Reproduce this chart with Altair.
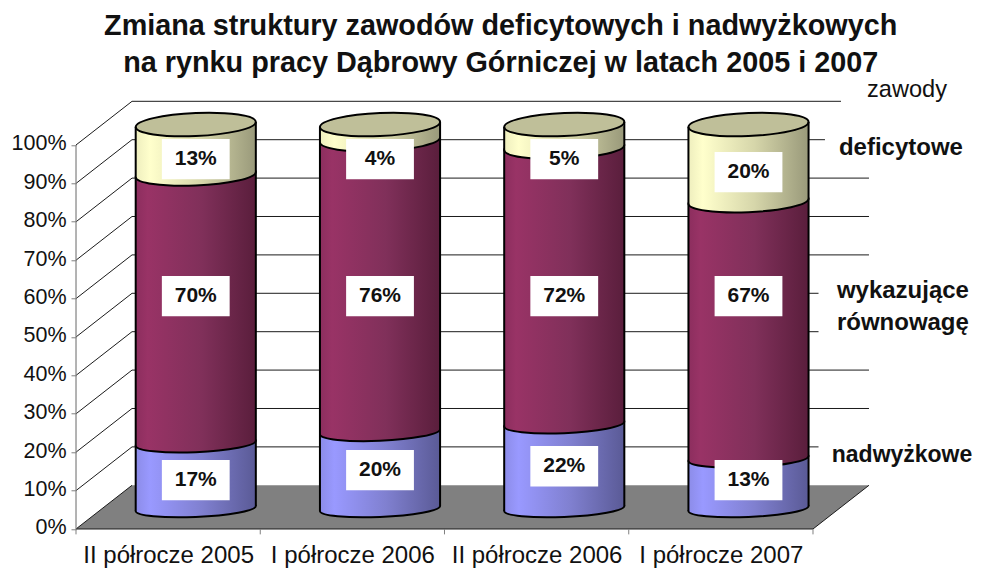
import altair as alt
import pandas as pd

# ---- values ----
periods = ["II półrocze 2005", "I półrocze 2006", "II półrocze 2006", "I półrocze 2007"]
nadwyzkowe = [17, 20, 22, 13]
rownowaga = [70, 76, 72, 67]
deficytowe = [13, 4, 5, 20]
ticks_pct = list(range(0, 101, 10))
title_lines = ["Zmiana struktury zawodów deficytowych i nadwyżkowych",
               "na rynku pracy Dąbrowy Górniczej w latach 2005 i 2007"]

# ---- scene geometry, in scale units ----
FONT = "Liberation Sans"
DX, DY = 0.304, 11.38          # depth of the box
CX, CY = 0.15, 5.34            # cylinder placement inside the depth
HW = 0.326                     # cylinder half width
TILT = 0.65                    # tilt of the ellipses, in % units
XMAX, YMAX = 4.8, DY + 100
PX, PY = 184.25, 3.84          # pixels per unit
RX = HW * PX


def ellipse(ry_px, shear=-0.0417):
    k, r = 0.5523, ry_px / RX
    pts = [(-1, 0), (-1, -k * r), (-k, -r), (0, -r), (k, -r), (1, -k * r), (1, 0),
           (1, k * r), (k, r), (0, r), (-k, r), (-1, k * r), (-1, 0)]
    p = [(x, y + shear * x) for x, y in pts]
    s = f"M{p[0][0]:.4f},{p[0][1]:.4f}"
    for i in range(1, 13, 3):
        s += "C" + " ".join(f"{a:.4f},{b:.4f}" for a, b in p[i:i + 3])
    return s + "Z"


def grad(*stops):
    return alt.LinearGradient(gradient="linear", x1=0, x2=1, y1=0, y2=0,
                              stops=[alt.GradientStop(offset=o, color=c) for o, c in stops])


YEL = grad((0, "#EEEEBE"), (0.12, "#FFFFCC"), (0.55, "#D6D6AA"), (1, "#99997A"))
MAR = grad((0, "#8C2E5E"), (0.1, "#993366"), (0.55, "#80305A"), (1, "#5A1E3C"))
BLU = grad((0, "#8C8CE8"), (0.12, "#9999FF"), (0.55, "#8080D0"), (1, "#5A5A96"))

centers = [i + 0.5 + CX for i in range(4)]
SX = alt.Scale(domain=[0, XMAX], nice=False, zero=False)
SY = alt.Scale(domain=[0, YMAX], nice=False, zero=False)
X = alt.X("x:Q", scale=SX,
          axis=alt.Axis(values=[0.5, 1.5, 2.5, 3.5], title=None, grid=False, domain=False, ticks=False,
                        labelExpr="['" + "','".join(periods) + "'][floor(datum.value)]",
                        labelFont=FONT, labelFontSize=24, labelColor="#111111", labelPadding=15,
                        labelOverlap=False, labelFlush=False))
Y = alt.Y("y:Q", scale=SY,
          axis=alt.Axis(values=ticks_pct, title=None, grid=False, domain=False,
                        labelExpr="datum.value + '%'", tickColor="#808080", tickSize=5, tickWidth=1,
                        labelFont=FONT, labelFontSize=21.5, labelColor="#111111", labelPadding=5,
                        labelOffset=-1))
X2, Y2 = alt.X2("x2:Q"), alt.Y2("y2:Q")
layers = []


def segs(rows):
    return pd.DataFrame(rows, columns=["x", "y", "x2", "y2"])


# floor
layers.append(alt.Chart(pd.DataFrame({"y": [0, DY], "x": [0, DX], "x2": [4, 4 + DX]}))
              .mark_area(orient="horizontal", color="#808080").encode(y=Y, x=X, x2=X2))
# walls: back gridlines, side diagonals, floor edges
walls = ([(DX, v + DY, 4 + DX, v + DY) for v in ticks_pct[1:]]
         + [(0, v, DX, v + DY) for v in ticks_pct]
         + [(4, 0, 4 + DX, DY), (0, 0, 4, 0)])
layers.append(alt.Chart(segs(walls)).mark_rule(color="#1a1a1a", strokeWidth=1)
              .encode(x=X, y=Y, x2=X2, y2=Y2))
layers.append(alt.Chart(segs([(0, 0, 0, 100)])).mark_rule(color="#808080", strokeWidth=1.2)
              .encode(x=X, y=Y, x2=X2, y2=Y2))
layers.append(alt.Chart(pd.DataFrame({"x": [0, 1, 2, 3, 4], "y": [0] * 5, "y2": [-1.4] * 5}))
              .mark_rule(color="#808080", strokeWidth=1, clip=False).encode(x=X, y=Y, y2=Y2))
# white backgrounds of the series names
masks = [(4.152, 108, XMAX, 113), (4.065, 95, XMAX, 104), (4.03, 48, XMAX, 66), (4.03, 15, XMAX, 23)]
layers.append(alt.Chart(segs(masks)).mark_rect(color="white").encode(x=X, y=Y, x2=X2, y2=Y2))

# cylinders, bottom segment first
series = [("nadwyzkowe", nadwyzkowe, BLU), ("rownowaga", rownowaga, MAR), ("deficytowe", deficytowe, YEL)]
base = [0, 0, 0, 0]
labels = []
for level, (name, vals, fill) in enumerate(series):
    rings, bodies = [], []
    for i, (c, v) in enumerate(zip(centers, vals)):
        lo, hi = base[i], base[i] + v
        rings.append({"x": c, "y": lo + CY, "shape": ellipse(8.5 + 0.03 * lo)})
        bodies += [{"x": c - HW, "y": lo + CY - TILT, "y2": hi + CY - TILT, "g": i},
                   {"x": c + HW, "y": lo + CY + TILT, "y2": hi + CY + TILT, "g": i}]
        mid = (lo + hi) / 2
        if level == 0:
            at = mid if mid >= 10 else 7.4
        elif level == 1:
            at = 55.3
        else:
            at = min(mid - 2.4, 91)
        labels.append({"x": c, "y": at + CY, "t": f"{v}%"})
        base[i] = hi
    layers.append(alt.Chart(pd.DataFrame(rings))
                  .mark_point(filled=True, fill=fill, stroke="black", strokeWidth=2, opacity=1, size=4 * RX * RX)
                  .encode(x=X, y=Y, shape=alt.Shape("shape:N", scale=None, legend=None)))
    layers.append(alt.Chart(pd.DataFrame(bodies)).mark_area(fill=fill, opacity=1, strokeWidth=0)
                  .encode(x=X, y=Y, y2=Y2, detail="g:N"))

# top caps
layers.append(alt.Chart(pd.DataFrame({"x": centers, "y": [100 + CY] * 4, "shape": [ellipse(11.5)] * 4}))
              .mark_point(filled=True, fill="#BFBF99", stroke="black", strokeWidth=2, opacity=1, size=4 * RX * RX)
              .encode(x=X, y=Y, shape=alt.Shape("shape:N", scale=None, legend=None)))
# cylinder side edges
edges = ([(c - HW, CY - TILT, c - HW, 100 + CY - TILT) for c in centers]
         + [(c + HW, CY + TILT, c + HW, 100 + CY + TILT) for c in centers])
layers.append(alt.Chart(segs(edges)).mark_rule(color="black", strokeWidth=2).encode(x=X, y=Y, x2=X2, y2=Y2))

# value labels
lab = pd.DataFrame(labels)
boxes = segs([(r["x"] - 0.184, r["y"] - 5.25, r["x"] + 0.184, r["y"] + 5.25) for r in labels])
layers.append(alt.Chart(boxes).mark_rect(color="white").encode(x=X, y=Y, x2=X2, y2=Y2))
layers.append(alt.Chart(lab).mark_text(font=FONT, fontWeight="bold", fontSize=21, color="#111111")
              .encode(x=X, y=Y, text="t:N"))

# series names
names = pd.DataFrame([
    {"x": 4.141, "y": 99.2, "t": "deficytowe"},
    {"x": 4.13, "y": 62, "t": "wykazujące"},
    {"x": 4.13, "y": 53.7, "t": "równowagę"},
])
layers.append(alt.Chart(names).mark_text(font=FONT, fontWeight="bold", fontSize=24, align="left", color="#111111")
              .encode(x=X, y=Y, text="t:N"))
layers.append(alt.Chart(pd.DataFrame({"x": [4.102], "y": [19.2], "t": ["nadwyżkowe"]}))
              .mark_text(font=FONT, fontWeight="bold", fontSize=23, align="left", color="#111111")
              .encode(x=X, y=Y, text="t:N"))
layers.append(alt.Chart(pd.DataFrame({"x": [4.51], "y": [114.4], "t": ["zawody"]}))
              .mark_text(font=FONT, fontSize=23.6, color="#111111").encode(x=X, y=Y, text="t:N"))

chart = alt.layer(*layers).properties(
    width=XMAX * PX, height=YMAX * PY, background="white",
    autosize=alt.AutoSizeParams(type="none"),
    padding={"left": 68, "top": 93.3, "right": 12.5, "bottom": 41},
    title=alt.TitleParams(text=title_lines, font=FONT, fontWeight="bold", fontSize=28.8, lineHeight=37,
                          anchor="middle", dx=-17.5, offset=0, color="#111111"),
).configure_view(stroke=None)

chart.save("out.html", embed_options={"renderer": "svg", "actions": False})
